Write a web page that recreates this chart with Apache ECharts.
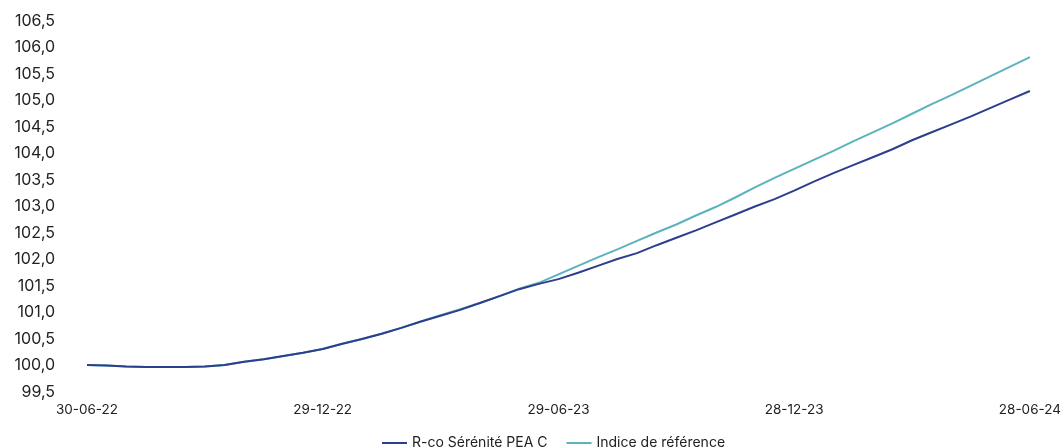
<!DOCTYPE html>
<html>
<head>
<meta charset="utf-8">
<script src="https://cdn.jsdelivr.net/npm/echarts@6/dist/echarts.min.js"></script>
<style>
html,body{margin:0;padding:0;background:#fff;}
#chart{width:1064px;height:448px;}
</style>
</head>
<body>
<div id="chart"></div>
<script>
const dates = [
  '30-06-22','15-07-22','29-07-22','15-08-22','31-08-22','15-09-22','30-09-22','14-10-22','31-10-22','15-11-22','30-11-22','15-12-22',
  '29-12-22','13-01-23','31-01-23','15-02-23','28-02-23','15-03-23','31-03-23','14-04-23','28-04-23','15-05-23','31-05-23','15-06-23',
  '29-06-23','14-07-23','31-07-23','15-08-23','31-08-23','15-09-23','29-09-23','13-10-23','31-10-23','15-11-23','30-11-23','15-12-23',
  '28-12-23','15-01-24','31-01-24','15-02-24','29-02-24','15-03-24','28-03-24','15-04-24','30-04-24','15-05-24','31-05-24','14-06-24',
  '28-06-24'
];
const fundName = 'R-co Sérénité PEA C';
const indexName = 'Indice de référence';
const fundValues = [
  100.01,100.00,99.98,99.97,99.97,99.97,99.98,100.01,100.07,100.12,100.18,100.24,
  100.31,100.41,100.50,100.60,100.71,100.83,100.94,101.05,101.18,101.31,101.44,101.54,
  101.63,101.75,101.88,102.01,102.12,102.27,102.41,102.55,102.70,102.85,103.00,103.14,
  103.30,103.47,103.63,103.78,103.93,104.08,104.25,104.40,104.55,104.70,104.86,105.02,
  105.18
];
const indexValues = [
  100.01,100.00,99.98,99.97,99.97,99.97,99.98,100.01,100.07,100.12,100.18,100.24,
  100.31,100.41,100.50,100.60,100.71,100.83,100.95,101.06,101.18,101.31,101.45,101.56,
  101.72,101.88,102.04,102.19,102.35,102.51,102.66,102.83,102.99,103.17,103.36,103.54,
  103.71,103.88,104.05,104.23,104.40,104.57,104.75,104.93,105.10,105.28,105.46,105.64,
  105.82
];
const yTicks = [99.5,100,100.5,101,101.5,102,102.5,103,103.5,104,104.5,105,105.5,106,106.5];

const chart = echarts.init(document.getElementById('chart'));
chart.setOption({
  animation: false,
  backgroundColor: '#ffffff',
  textStyle: { fontFamily: 'Inter, Roboto, sans-serif' },
  grid: { left: 87, right: 31, top: 21, bottom: 56, containLabel: false },
  legend: {
    left: 377, top: 431,
    icon: 'rect', itemWidth: 25, itemHeight: 2, itemGap: 19,
    textStyle: { fontSize: 14, color: '#222' },
    data: [fundName, indexName]
  },
  xAxis: {
    type: 'category',
    data: dates,
    boundaryGap: false,
    axisLine: { show: false },
    axisTick: { show: false },
    axisLabel: {
      interval: function (i) { return i % 12 === 0; },
      color: '#222', fontSize: 13.5, margin: 11
    },
    splitLine: { show: false }
  },
  yAxis: {
    type: 'value',
    min: yTicks[0], max: yTicks[yTicks.length - 1], interval: 0.5,
    axisLine: { show: false },
    axisTick: { show: false },
    splitLine: { show: false },
    axisLabel: {
      color: '#222', fontSize: 16, margin: 32,
      formatter: function (v) { return v.toFixed(1).replace('.', ','); }
    }
  },
  series: [
    {
      name: fundName, type: 'line', data: fundValues, symbol: 'none', z: 3,
      lineStyle: { color: '#2e3e8e', width: 2 }, itemStyle: { color: '#2e3e8e' }
    },
    {
      name: indexName, type: 'line', data: indexValues, symbol: 'none', z: 2,
      lineStyle: { color: '#5bb3bd', width: 2 }, itemStyle: { color: '#5bb3bd' }
    }
  ]
});
</script>
</body>
</html>
